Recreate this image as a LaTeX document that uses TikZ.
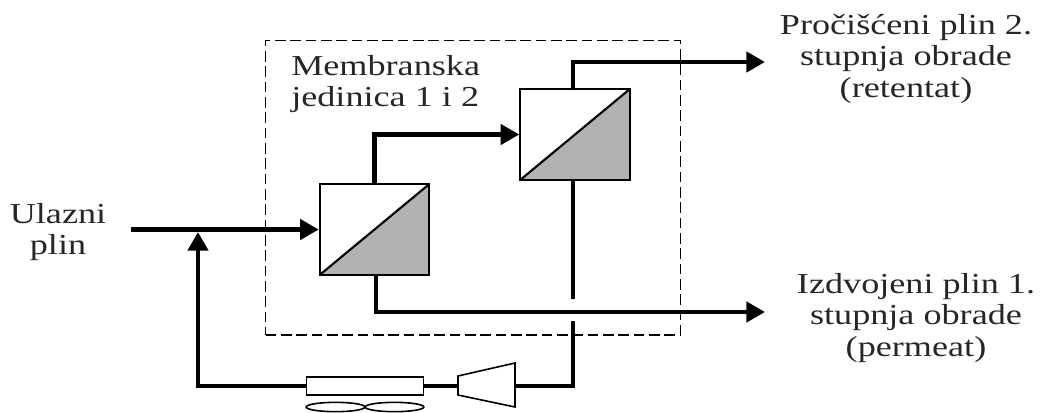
\documentclass[tikz,border=0pt]{standalone}
\usepackage{fontspec}
\setmainfont[FakeStretch=1.25]{Liberation Serif}
\usetikzlibrary{arrows.meta,shapes.geometric}

\tikzset{
  membrana/.style={draw,line width=1.6pt,fill=white,minimum width=82pt,minimum height=68pt,inner sep=0pt,
    path picture={
      \fill[black!30] (path picture bounding box.south west) -- (path picture bounding box.north east)
        -- (path picture bounding box.south east) -- cycle;
      \draw[line width=1.6pt] (path picture bounding box.south west) -- (path picture bounding box.north east);
    }},
  cijev/.style={line width=3.4pt},
  tanko/.style={draw,line width=1.2pt,fill=white,inner sep=0pt},
  natpis/.style={align=center,inner sep=0pt,font=\fontsize{21.7}{23.3}\selectfont,text=black!85},
}

\begin{document}
\begin{tikzpicture}[x=0.75pt,y=-0.75pt,>={Triangle[length=14pt,width=15pt]}]
  \useasboundingbox (0,0) rectangle (1043,412);

  % granica jedinice
  \node[draw,line width=1pt,dash pattern=on 8pt off 3.5pt,minimum width=311pt,minimum height=221pt,inner sep=0pt] (granica) at (473,187.5) {};

  \node[membrana] (mem1) at (374.5,229.5) {};
  \node[membrana] (mem2) at (575,134.5) {};

  \node[tanko,minimum width=88pt,minimum height=13.5pt] (hladnjak) at (365,386) {};
  \node[tanko,ellipse,minimum width=44pt,minimum height=7pt] (vent1) at (335.5,407) {};
  \node[tanko,ellipse,minimum width=44pt,minimum height=7pt] (vent2) at (394.5,407) {};

  % kompresor
  \coordinate (kompL) at (458,386);
  \coordinate (kompD) at (515,386);
  \draw[line width=1.2pt,fill=white] (458,376) -- (515,363) -- (515,407) -- (458,395) -- cycle;

  \coordinate (ulaz) at (131,229.5);
  \coordinate (spoj) at (198,232);
  \coordinate (van1) at (765,62);
  \coordinate (van2) at (765,312);
  \coordinate (mem2g) at (573,90);
  \coordinate (mem2d) at (573,179);
  \coordinate (mem1d) at (376,275);
  \coordinate (prekidA) at (573,299);
  \coordinate (prekidB) at (573,321);

  \draw[cijev,->] (ulaz) -- (mem1.west);
  \draw[cijev,->] (mem1.north) |- (mem2.west);
  \draw[cijev,->] (mem2g) |- (van1);
  \draw[cijev,->] (mem1d) |- (van2);
  \draw[cijev] (mem2d) -- (prekidA);
  \draw[cijev] (prekidB) |- (kompD);
  \draw[cijev] (kompL) -- (hladnjak.east);
  \draw[cijev,->] (hladnjak.west) -| (spoj);

  \node[natpis,align=left,anchor=north west] (jedinica) at (291,55) {Membranska\\jedinica 1 i 2};
  \node[natpis] (ulazni) at (58,232) {Ulazni\\plin};
  \node[natpis] (retentat) at (906,59) {Pročišćeni plin 2.\\stupnja obrade\\(retentat)};
  \node[natpis] (permeat) at (916,318) {Izdvojeni plin 1.\\stupnja obrade\\(permeat)};
\end{tikzpicture}
\end{document}
